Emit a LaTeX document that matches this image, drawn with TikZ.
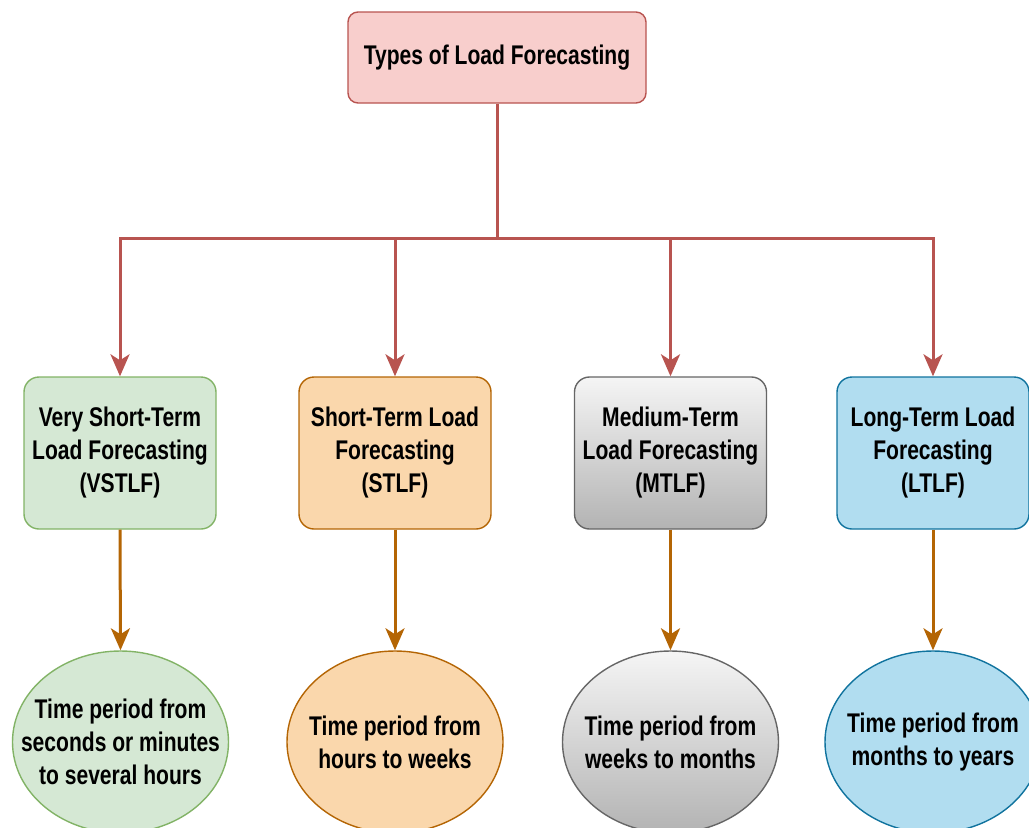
\documentclass[tikz,border=0pt]{standalone}
\usepackage{fontspec}
\setmainfont{Liberation Sans}[FakeStretch=0.78]
\usetikzlibrary{arrows.meta,shapes.geometric}

\definecolor{redfill}{HTML}{F8CECC}
\definecolor{redline}{HTML}{B85450}
\definecolor{greenfill}{HTML}{D5E8D4}
\definecolor{greenline}{HTML}{82B366}
\definecolor{orangefill}{HTML}{FAD7AC}
\definecolor{orangeline}{HTML}{B46504}
\definecolor{graytop}{HTML}{F5F5F5}
\definecolor{graybottom}{HTML}{B3B3B3}
\definecolor{grayline}{HTML}{666666}
\definecolor{bluefill}{HTML}{B1DDF0}
\definecolor{blueline}{HTML}{10739E}

\tikzset{
  lbl/.style={font=\bfseries\fontsize{27}{33}\selectfont, align=center, inner sep=0pt},
  typebox/.style={rectangle, rounded corners=15pt, minimum width=192pt,
    minimum height=152pt, line width=1.4pt, lbl},
  oval/.style={ellipse, minimum width=216pt, minimum height=182pt,
    inner sep=0pt, line width=1.4pt},
  green/.style={fill=greenfill, draw=greenline},
  orange/.style={fill=orangefill, draw=orangeline},
  grayshade/.style={top color=graytop, bottom color=graybottom, draw=grayline},
  blue/.style={fill=bluefill, draw=blueline},
  tip/.style={-{Stealth[length=22pt, width=19pt, inset=6pt]}},
  treeline/.style={draw=redline, line width=3pt},
  treearrow/.style={treeline, tip},
  periodarrow/.style={draw=orangeline, line width=3pt, tip},
}

\begin{document}
\begin{tikzpicture}[x=1pt, y=-1pt]
  \useasboundingbox (0,0) rectangle (1029,828);
  \clip (0,0) rectangle (1029,828);

  % root
  \node[rectangle, rounded corners=10pt, minimum width=298pt, minimum height=91pt,
        fill=redfill, draw=redline, line width=1.4pt, lbl]
        (root) at (497,57.5) {Types of Load Forecasting};

  % forecasting types
  \node[typebox, green]     (b1) at (120,453)   {Very Short-Term\\Load Forecasting\\(VSTLF)};
  \node[typebox, orange]    (b2) at (395,453)   {Short-Term Load\\Forecasting\\(STLF)};
  \node[typebox, grayshade] (b3) at (670.5,453) {Medium-Term\\Load Forecasting\\(MTLF)};
  \node[typebox, blue]      (b4) at (933,453)   {Long-Term Load\\Forecasting\\(LTLF)};

  % time periods
  \node[oval, green]     (e1) at (120.5,742) {};
  \node[oval, orange]    (e2) at (395,742)   {};
  \node[oval, grayshade] (e3) at (670.5,742) {};
  \node[oval, blue]      (e4) at (933,742)   {};
  \node[lbl] (t1) at (e1) {Time period from\\seconds or minutes\\to several hours};
  \node[lbl] (t2) at (e2) {Time period from\\hours to weeks};
  \node[lbl] (t3) at (e3) {Time period from\\weeks to months};
  \node[lbl] (t4) at (e4) {Time period from\\months to years};

  % tree connectors
  \coordinate (hub) at (497,238);
  \draw[treeline] (root.south) -- (hub);
  \draw[treearrow] (hub) -| (b1.north);
  \draw[treearrow] (hub) -| (b2.north);
  \draw[treearrow] (hub) -| (b3.north);
  \draw[treearrow] (hub) -| (b4.north);

  % type to period
  \draw[periodarrow] (b1.south) -- (e1.north);
  \draw[periodarrow] (b2.south) -- (e2.north);
  \draw[periodarrow] (b3.south) -- (e3.north);
  \draw[periodarrow] (b4.south) -- (e4.north);
\end{tikzpicture}
\end{document}
